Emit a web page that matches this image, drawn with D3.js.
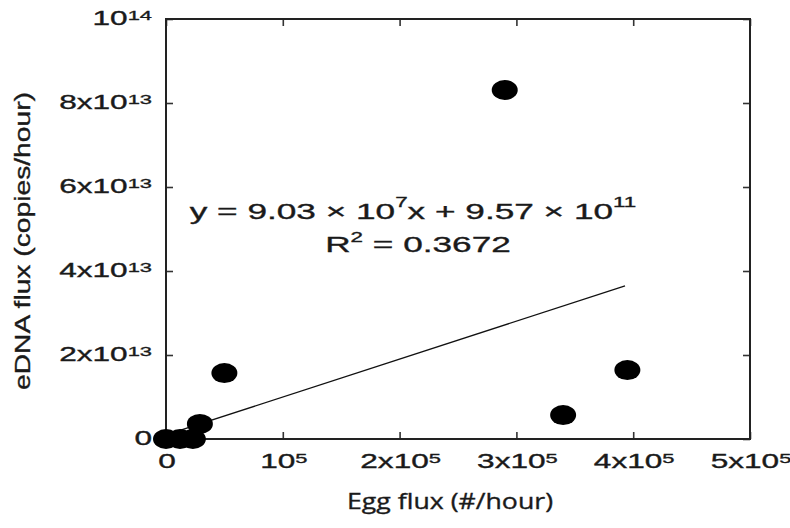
<!DOCTYPE html>
<html>
<head>
<meta charset="utf-8">
<script src="https://cdn.jsdelivr.net/npm/d3@7"></script>
<style>
  html, body { margin: 0; padding: 0; background: #fff; }
  text { font-family: "Liberation Sans", Arial, sans-serif; fill: #1a1a1a; stroke: #1a1a1a; stroke-width: 0.35px; }
</style>
</head>
<body>
<div id="chart"></div>
<script>
// egg flux (#/hour) vs eDNA flux (copies/hour)
const eggFlux  = [0, 1.2e4, 2.3e4, 2.9e4, 5.0e4, 2.90e5, 3.40e5, 3.95e5];
const ednaFlux = [0, 0, 0, 3.6e12, 1.57e13, 8.31e13, 5.7e12, 1.64e13];

const xTicks = [0, 1e5, 2e5, 3e5, 4e5, 5e5];
const xTickBase = ["0", "10", "2x10", "3x10", "4x10", "5x10"];
const xTickExp = ["", "5", "5", "5", "5", "5"];

const yTicks = [0, 2e13, 4e13, 6e13, 8e13, 1e14];
const yTickBase = ["0", "2x10", "4x10", "6x10", "8x10", "10"];
const yTickExp = ["", "13", "13", "13", "13", "14"];

// fitted line  y = 9.03 x 10^7 x + 9.57 x 10^11
const fitSlope = [9.03, 7];
const fitIntercept = [9.57, 11];
const fitR2 = "0.3672";
const fitRange = [0, 3.93e5];

const svgWidth = 790;
const svgHeight = 528;
const plot = { left: 166, right: 750, top: 19, bottom: 439 };
const sx = 1.62; // reference text is stretched sideways

const svg = d3.select("#chart").append("svg")
    .attr("width", svgWidth)
    .attr("height", svgHeight);

const x = d3.scaleLinear().domain([0, 5e5]).range([plot.left, plot.right]);
const y = d3.scaleLinear().domain([0, 1e14]).range([plot.bottom, plot.top]);

// inward ticks on all four sides
const tick = 7;
svg.append("g")
    .attr("transform", `translate(0, ${plot.bottom})`)
    .call(d3.axisBottom(x).tickValues(xTicks).tickSizeInner(-tick).tickSizeOuter(0).tickFormat(""));
svg.append("g")
    .attr("transform", `translate(0, ${plot.top})`)
    .call(d3.axisTop(x).tickValues(xTicks).tickSizeInner(-tick).tickSizeOuter(0).tickFormat(""));
svg.append("g")
    .attr("transform", `translate(${plot.left}, 0)`)
    .call(d3.axisLeft(y).tickValues(yTicks).tickSizeInner(-tick).tickSizeOuter(0).tickFormat(""));
svg.append("g")
    .attr("transform", `translate(${plot.right}, 0)`)
    .call(d3.axisRight(y).tickValues(yTicks).tickSizeInner(-tick).tickSizeOuter(0).tickFormat(""));

svg.selectAll(".domain").remove();
svg.selectAll(".tick line").attr("stroke", "#333").attr("stroke-width", 1.6);

// frame
svg.append("rect")
    .attr("x", plot.left)
    .attr("y", plot.top)
    .attr("width", plot.right - plot.left)
    .attr("height", plot.bottom - plot.top)
    .attr("fill", "none")
    .attr("stroke", "#222")
    .attr("stroke-width", 2);

// tick labels with superscript exponents
function supLabel(sel, base, exp, anchor) {
    sel.attr("text-anchor", anchor).attr("font-size", 19.5);
    sel.append("tspan").text(base);
    if (exp) sel.append("tspan").attr("font-size", 13.5).attr("dy", -5).text(exp);
}

xTicks.forEach((v, i) => {
    const t = svg.append("text")
        .attr("transform", `translate(${x(v) + 1}, ${plot.bottom + 29}) scale(${sx}, 1)`);
    supLabel(t, xTickBase[i], xTickExp[i], "middle");
});

yTicks.forEach((v, i) => {
    const t = svg.append("text")
        .attr("transform", `translate(152, ${y(v) + 6}) scale(${sx}, 1)`);
    supLabel(t, yTickBase[i], yTickExp[i], "end");
});

// regression line
const fit = d => fitSlope[0] * Math.pow(10, fitSlope[1]) * d
    + fitIntercept[0] * Math.pow(10, fitIntercept[1]);
svg.append("line")
    .attr("x1", x(fitRange[0]))
    .attr("y1", y(fit(fitRange[0])))
    .attr("x2", x(fitRange[1]))
    .attr("y2", y(fit(fitRange[1])))
    .attr("stroke", "#111")
    .attr("stroke-width", 1.3);

// points
svg.selectAll(".dot")
    .data(eggFlux.map((d, i) => [d, ednaFlux[i]]))
    .enter()
    .append("ellipse")
    .attr("class", "dot")
    .attr("cx", d => x(d[0]))
    .attr("cy", d => y(d[1]))
    .attr("rx", 13)
    .attr("ry", 10)
    .attr("fill", "#000");

// equation
const eq = svg.append("text")
    .attr("transform", `translate(413, 219) scale(1.6, 1)`)
    .attr("text-anchor", "middle")
    .attr("font-size", 22);
eq.append("tspan").text(`y = ${fitSlope[0].toFixed(2)} \u00d7 10`);
eq.append("tspan").attr("font-size", 14).attr("dy", -12).text(fitSlope[1]);
eq.append("tspan").attr("dy", 12).text(`x + ${fitIntercept[0].toFixed(2)} \u00d7 10`);
eq.append("tspan").attr("font-size", 14).attr("dy", -12).text(fitIntercept[1]);

const r2 = svg.append("text")
    .attr("transform", `translate(418, 252) scale(1.6, 1)`)
    .attr("text-anchor", "middle")
    .attr("font-size", 22);
r2.append("tspan").text("R");
r2.append("tspan").attr("font-size", 14).attr("dy", -10).text("2");
r2.append("tspan").attr("dy", 10).text(` = ${fitR2}`);

// axis titles
svg.append("text")
    .attr("x", 450)
    .attr("y", 509)
    .attr("text-anchor", "middle")
    .attr("font-size", 21)
    .style("font-family", "'Open Sans', sans-serif")
    .attr("textLength", 206)
    .attr("lengthAdjust", "spacingAndGlyphs")
    .text("Egg flux (#/hour)");

svg.append("text")
    .attr("transform", "translate(30, 241) rotate(-90)")
    .attr("text-anchor", "middle")
    .attr("font-size", 22)
    .attr("textLength", 298)
    .attr("lengthAdjust", "spacingAndGlyphs")
    .text("eDNA flux (copies/hour)");
</script>
</body>
</html>
